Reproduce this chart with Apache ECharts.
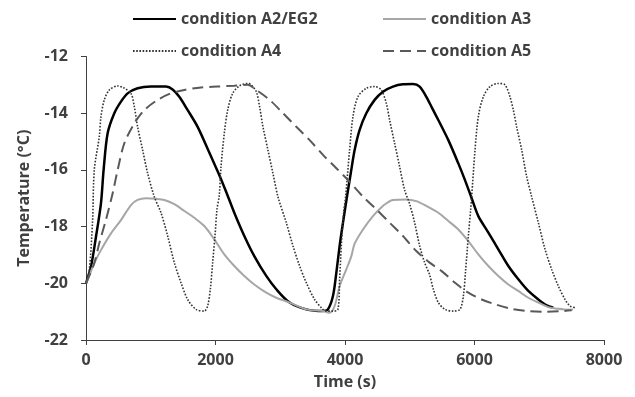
<!DOCTYPE html>
<html>
<head>
<meta charset="utf-8">
<script src="https://cdn.jsdelivr.net/npm/echarts@6/dist/echarts.min.js"></script>
<style>
  html, body { margin: 0; padding: 0; background: #fff; }
  #chart { width: 635px; height: 397px; }
</style>
</head>
<body>
<div id="chart"></div>
<script>
// condition A2/EG2 (solid black)
const timeA2 = [0, 77, 154, 231, 272, 334, 437, 540, 643, 797, 1003, 1235, 1338, 1441, 1570, 1724, 1878, 2033, 2161, 2290, 2445, 2599, 2784, 2939, 3145, 3402, 3660, 3737, 3814, 3866, 3917, 3969, 4030, 4090, 4149, 4226, 4329, 4458, 4586, 4740, 4895, 5049, 5153, 5256, 5348, 5441, 5596, 5750, 5853, 5956, 6059, 6214, 6368, 6523, 6677, 6831, 6986, 7115, 7218]
const tempA2 = [-20, -19.41, -18.36, -17.18, -16.0, -14.71, -14.0, -13.59, -13.3, -13.12, -13.06, -13.06, -13.16, -13.42, -13.89, -14.48, -15.25, -16.05, -16.75, -17.51, -18.33, -19.04, -19.74, -20.21, -20.68, -20.92, -20.98, -20.92, -20.45, -19.63, -18.68, -17.86, -16.95, -16.1, -15.3, -14.59, -14.0, -13.53, -13.24, -13.06, -12.98, -12.97, -13.06, -13.42, -13.83, -14.24, -14.95, -15.77, -16.36, -17.0, -17.63, -18.21, -18.8, -19.39, -19.86, -20.27, -20.57, -20.78, -20.86]

// condition A3 (solid grey)
const timeA3 = [0, 25, 128, 231, 386, 540, 695, 797, 926, 1081, 1210, 1364, 1519, 1673, 1827, 1982, 2136, 2290, 2445, 2599, 2784, 2939, 3145, 3402, 3660, 3763, 3840, 3917, 4020, 4097, 4149, 4278, 4432, 4586, 4740, 4947, 5101, 5256, 5441, 5596, 5750, 5905, 6059, 6214, 6368, 6523, 6677, 6831, 6986, 7140, 7295, 7449, 7520]
const tempA3 = [-20, -19.88, -19.29, -18.83, -18.24, -17.77, -17.24, -17.06, -17.0, -17.02, -17.06, -17.21, -17.45, -17.69, -17.98, -18.45, -18.98, -19.39, -19.74, -20.04, -20.33, -20.51, -20.68, -20.92, -20.98, -21.04, -20.8, -20.1, -19.51, -19.05, -18.6, -18.1, -17.63, -17.27, -17.06, -17.04, -17.1, -17.27, -17.51, -17.8, -18.1, -18.51, -18.98, -19.39, -19.74, -20.04, -20.27, -20.51, -20.68, -20.84, -20.9, -20.93, -20.92]

// condition A4 (dotted)
const timeA4 = [0, 51, 102, 128, 205, 231, 283, 360, 488, 580, 694, 746, 797, 875, 952, 1055, 1158, 1261, 1364, 1467, 1570, 1699, 1827, 1879, 1920, 1956, 1992, 2023, 2058, 2085, 2136, 2188, 2265, 2368, 2497, 2549, 2630, 2681, 2733, 2810, 2887, 2965, 3093, 3196, 3299, 3402, 3531, 3660, 3711, 3814, 3891, 3917, 3943, 3979, 4010, 4071, 4123, 4200, 4329, 4458, 4560, 4638, 4689, 4766, 4844, 4921, 4998, 5075, 5153, 5230, 5307, 5364, 5441, 5544, 5673, 5776, 5828, 5864, 5905, 5941, 5956, 6008, 6059, 6136, 6239, 6368, 6471, 6548, 6600, 6651, 6729, 6806, 6883, 6986, 7089, 7192, 7295, 7398, 7475, 7552]
const tempA4 = [-20, -19.53, -17.77, -16.0, -14.83, -14.12, -13.53, -13.18, -13.04, -13.1, -13.3, -13.77, -14.48, -15.3, -16.12, -16.95, -17.51, -18.33, -19.27, -19.98, -20.57, -20.92, -20.98, -20.8, -20.21, -19.27, -18.33, -17.39, -16.9, -15.89, -14.71, -13.89, -13.3, -13.04, -12.95, -13.0, -13.24, -13.77, -14.48, -15.3, -16.12, -16.95, -17.86, -18.68, -19.39, -19.98, -20.57, -20.92, -20.98, -20.98, -20.92, -19.86, -18.68, -17.51, -16.92, -15.3, -14.12, -13.42, -13.12, -13.06, -13.18, -13.65, -14.24, -15.06, -15.89, -16.71, -17.2, -17.86, -18.68, -19.27, -19.7, -20.21, -20.68, -20.92, -20.98, -20.92, -20.45, -19.51, -18.33, -17.39, -16.95, -15.3, -14.12, -13.42, -13.06, -12.95, -13.0, -13.42, -13.89, -14.48, -15.3, -16.24, -16.95, -17.86, -18.8, -19.51, -20.1, -20.57, -20.8, -20.86]

// condition A5 (dashed)
const timeA5 = [0, 128, 205, 308, 411, 489, 592, 746, 901, 1107, 1312, 1518, 1776, 2033, 2291, 2497, 2630, 2836, 3042, 3248, 3454, 3660, 3866, 4071, 4277, 4483, 4689, 4895, 5101, 5307, 5493, 5699, 5905, 6111, 6317, 6574, 6831, 7089, 7346, 7500]
const tempA5 = [-20, -19.29, -18.59, -17.76, -16.83, -16.0, -15.06, -14.36, -13.89, -13.53, -13.3, -13.18, -13.09, -13.06, -13.03, -13.0, -13.18, -13.53, -14.0, -14.48, -14.95, -15.47, -15.94, -16.42, -16.94, -17.39, -17.86, -18.33, -18.86, -19.27, -19.57, -19.98, -20.33, -20.57, -20.74, -20.9, -20.98, -21.0, -20.98, -20.95]

const xTicks = [0, 2000, 4000, 6000, 8000]
const yTicks = [-22, -20, -18, -16, -14, -12]

const textColor = '#404040'
const font = '"Open Sans", sans-serif'

function pairs(xs, ys) {
  return xs.map((x, i) => [x, ys[i]])
}

const chart = echarts.init(document.getElementById('chart'))

const legendBase = {
  itemWidth: 43,
  itemHeight: 12,
  itemGap: 6,
  itemStyle: { opacity: 0 },
  textStyle: { color: textColor, fontFamily: font, fontWeight: 'bold', fontSize: 16 },
}

const lineOpts = { type: 'line', symbol: 'none', smooth: 0.3 }

const option = {
  animation: false,
  grid: { left: 86, right: 31, top: 56.5, bottom: 57 },
  legend: [
    { ...legendBase, data: ['condition A2/EG2'], left: 127, top: 6 },
    { ...legendBase, data: ['condition A3'], left: 377, top: 6 },
    { ...legendBase, data: ['condition A4'], left: 127, top: 38 },
    { ...legendBase, data: ['condition A5'], left: 377, top: 38 },
  ],
  xAxis: {
    type: 'value',
    min: xTicks[0],
    max: xTicks[xTicks.length - 1],
    interval: 2000,
    name: 'Time (s)',
    nameLocation: 'middle',
    nameGap: 34,
    nameTextStyle: { color: textColor, fontFamily: font, fontWeight: 'bold', fontSize: 16 },
    axisLine: { lineStyle: { color: '#404040', width: 1 } },
    axisTick: { show: true, inside: false, length: 5, lineStyle: { color: '#404040' } },
    axisLabel: {
      color: textColor, fontFamily: font, fontWeight: 'bold', fontSize: 16, margin: 12,
      formatter: v => String(v),
    },
    splitLine: { show: false },
  },
  yAxis: {
    type: 'value',
    min: yTicks[0],
    max: yTicks[yTicks.length - 1],
    interval: 2,
    name: 'Temperature (°C)',
    nameLocation: 'middle',
    nameGap: 54,
    nameTextStyle: { color: textColor, fontFamily: font, fontWeight: 'bold', fontSize: 16 },
    axisLine: { show: true, onZero: false, lineStyle: { color: '#404040', width: 1 } },
    axisTick: { show: true, inside: false, length: 5, lineStyle: { color: '#404040' } },
    axisLabel: { color: textColor, fontFamily: font, fontWeight: 'bold', fontSize: 16, margin: 18 },
    splitLine: { show: false },
  },
  series: [
    {
      ...lineOpts,
      name: 'condition A2/EG2',
      data: pairs(timeA2, tempA2),
      lineStyle: { color: '#000000', width: 2.5 },
      itemStyle: { color: '#000000' },
    },
    {
      ...lineOpts,
      name: 'condition A3',
      data: pairs(timeA3, tempA3),
      lineStyle: { color: '#a6a6a6', width: 2 },
      itemStyle: { color: '#a6a6a6' },
    },
    {
      ...lineOpts,
      name: 'condition A4',
      data: pairs(timeA4, tempA4),
      lineStyle: { color: '#333333', width: 1.6, type: [1.6, 1.6] },
      itemStyle: { color: '#333333' },
    },
    {
      ...lineOpts,
      name: 'condition A5',
      data: pairs(timeA5, tempA5),
      lineStyle: { color: '#595959', width: 2, type: [11, 6] },
      itemStyle: { color: '#595959' },
    },
  ],
}

chart.setOption(option)
</script>
</body>
</html>
